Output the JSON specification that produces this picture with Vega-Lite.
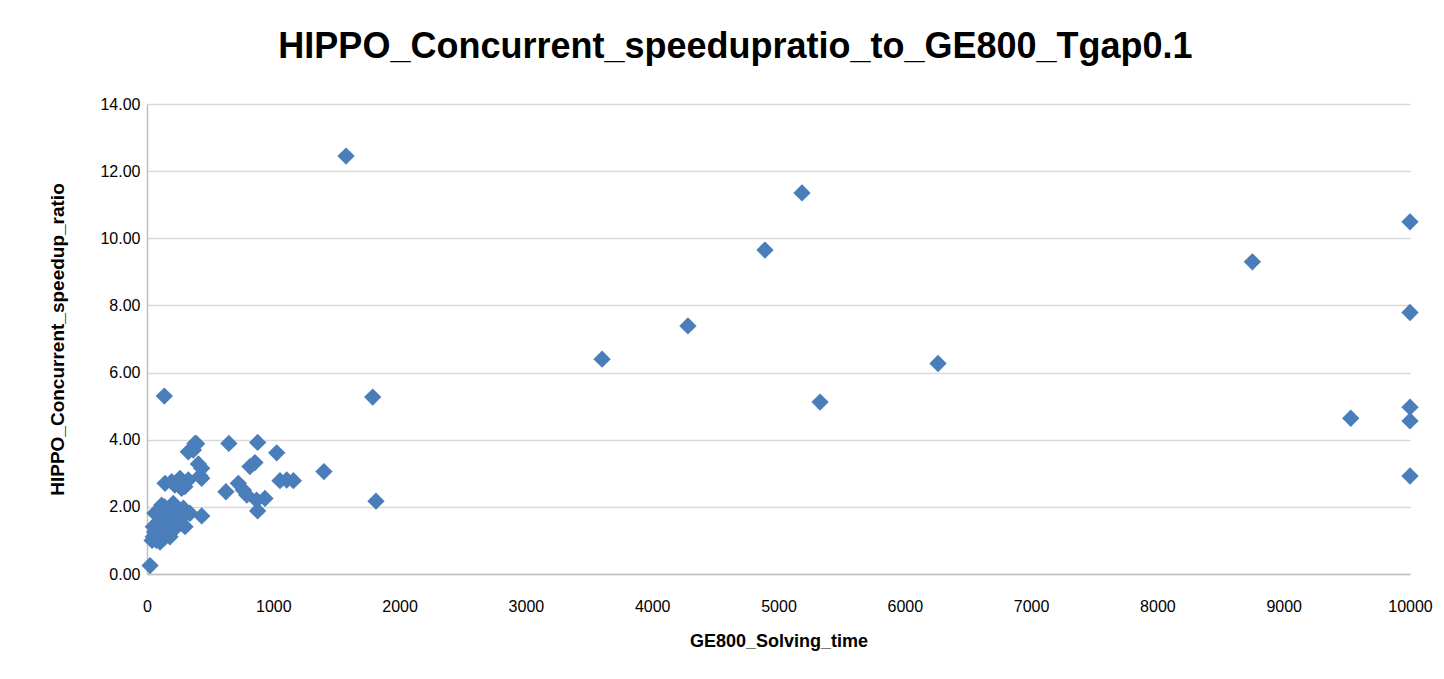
{
  "$schema": "https://vega.github.io/schema/vega-lite/v6.json",
  "autosize": {"type": "none"},
  "width": 1263,
  "height": 470,
  "padding": {"left": 147, "top": 104, "right": 34, "bottom": 105},
  "background": "white",
  "title": {
    "text": "HIPPO_Concurrent_speedupratio_to_GE800_Tgap0.1",
    "font": "Liberation Sans",
    "fontSize": 36,
    "fontWeight": "bold",
    "color": "#000000",
    "anchor": "middle",
    "dx": -43,
    "offset": 30
  },
  "config": {
    "view": {"stroke": null},
    "axis": {
      "labelFont": "Liberation Sans",
      "labelFontSize": 16,
      "labelColor": "#000000",
      "titleFont": "Liberation Sans",
      "titleFontWeight": "bold",
      "titleColor": "#000000",
      "domainColor": "#BFBFBF",
      "domainWidth": 1.5,
      "gridColor": "#D9D9D9",
      "gridWidth": 1.5,
      "ticks": false,
      "tickSize": 0
    }
  },
  "data": {
    "values": [
      {"t": 24, "r": 0.25},
      {"t": 137, "r": 5.30},
      {"t": 1576, "r": 12.45},
      {"t": 1787, "r": 5.27},
      {"t": 1813, "r": 2.17},
      {"t": 1401, "r": 3.05},
      {"t": 3603, "r": 6.40},
      {"t": 4283, "r": 7.39},
      {"t": 4893, "r": 9.65},
      {"t": 5186, "r": 11.35},
      {"t": 5329, "r": 5.12},
      {"t": 6263, "r": 6.27},
      {"t": 8752, "r": 9.30},
      {"t": 9531, "r": 4.64},
      {"t": 10000, "r": 10.49},
      {"t": 10000, "r": 7.79},
      {"t": 10000, "r": 4.97},
      {"t": 10000, "r": 4.56},
      {"t": 10000, "r": 2.92},
      {"t": 1027, "r": 3.61},
      {"t": 876, "r": 3.92},
      {"t": 648, "r": 3.89},
      {"t": 380, "r": 3.89},
      {"t": 393, "r": 3.88},
      {"t": 367, "r": 3.69},
      {"t": 327, "r": 3.64},
      {"t": 407, "r": 3.28},
      {"t": 433, "r": 3.15},
      {"t": 420, "r": 2.92},
      {"t": 433, "r": 2.85},
      {"t": 815, "r": 3.20},
      {"t": 855, "r": 3.32},
      {"t": 1053, "r": 2.78},
      {"t": 1106, "r": 2.80},
      {"t": 1159, "r": 2.78},
      {"t": 625, "r": 2.45},
      {"t": 723, "r": 2.70},
      {"t": 763, "r": 2.50},
      {"t": 790, "r": 2.35},
      {"t": 868, "r": 2.20},
      {"t": 934, "r": 2.25},
      {"t": 876, "r": 1.88},
      {"t": 433, "r": 1.73},
      {"t": 301, "r": 1.41},
      {"t": 143, "r": 2.70},
      {"t": 195, "r": 2.75},
      {"t": 261, "r": 2.85},
      {"t": 274, "r": 2.55},
      {"t": 327, "r": 2.80},
      {"t": 220, "r": 2.65},
      {"t": 300, "r": 2.60},
      {"t": 116, "r": 2.05},
      {"t": 208, "r": 2.10},
      {"t": 288, "r": 1.96},
      {"t": 340, "r": 1.81},
      {"t": 63, "r": 1.81},
      {"t": 50, "r": 1.41},
      {"t": 50, "r": 1.11},
      {"t": 103, "r": 0.95},
      {"t": 182, "r": 1.11},
      {"t": 235, "r": 1.51},
      {"t": 156, "r": 1.61},
      {"t": 129, "r": 1.31},
      {"t": 40, "r": 1.00},
      {"t": 80, "r": 1.20},
      {"t": 90, "r": 1.55},
      {"t": 150, "r": 1.85},
      {"t": 200, "r": 1.75},
      {"t": 250, "r": 1.80},
      {"t": 270, "r": 1.65},
      {"t": 170, "r": 1.40},
      {"t": 100, "r": 1.70},
      {"t": 60, "r": 1.25},
      {"t": 130, "r": 1.05},
      {"t": 220, "r": 1.35},
      {"t": 75, "r": 1.00},
      {"t": 110, "r": 1.45},
      {"t": 180, "r": 1.95},
      {"t": 140, "r": 2.00}
    ]
  },
  "mark": {"type": "point", "shape": "diamond", "filled": true, "size": 300, "color": "#4A7EBB", "opacity": 1},
  "encoding": {
    "x": {
      "field": "t",
      "type": "quantitative",
      "title": "GE800_Solving_time",
      "scale": {"domain": [0, 10000], "nice": false, "zero": true},
      "axis": {"values": [0,1000,2000,3000,4000,5000,6000,7000,8000,9000,10000], "format": "d", "grid": false, "labelPadding": 24, "titlePadding": 18, "titleFontSize": 18, "labelFlush": false}
    },
    "y": {
      "field": "r",
      "type": "quantitative",
      "title": "HIPPO_Concurrent_speedup_ratio",
      "scale": {"domain": [0, 14], "nice": false},
      "axis": {"values": [0,2,4,6,8,10,12,14], "format": ".2f", "grid": true, "labelPadding": 7, "titlePadding": 32, "titleFontSize": 19, "labelFlush": false}
    }
  }
}
